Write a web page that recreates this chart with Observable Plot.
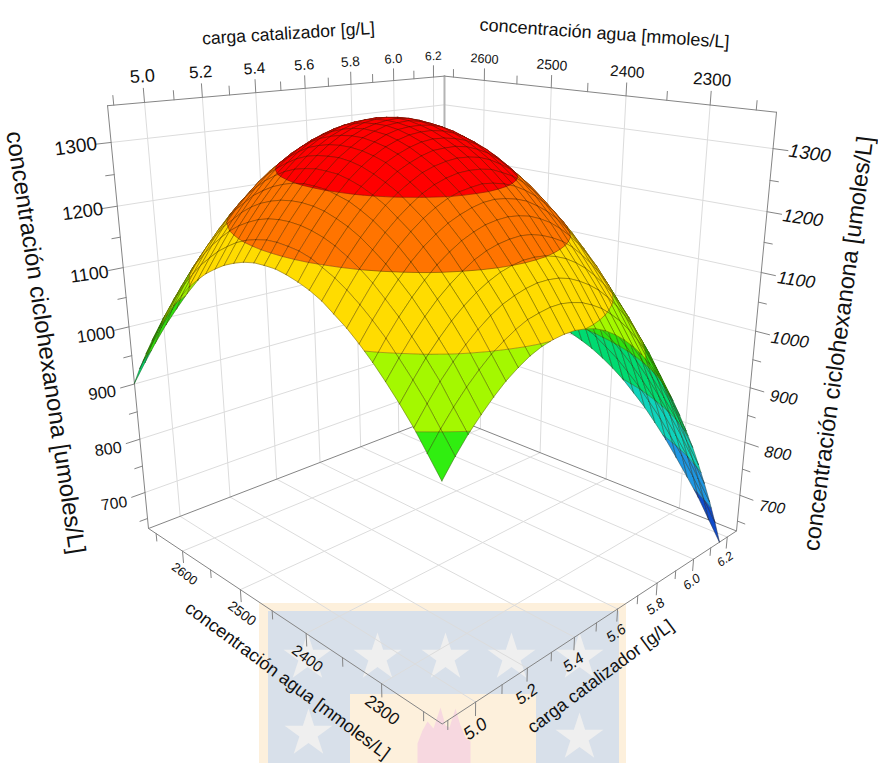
<!DOCTYPE html>
<html><head><meta charset="utf-8">
<script src="https://cdn.jsdelivr.net/npm/d3@7"></script>
<script src="https://cdn.jsdelivr.net/npm/@observablehq/plot@0.6"></script>
<style>html,body{margin:0;padding:0;background:#fff}svg{display:block}</style>
</head><body><div id="chart"></div>
<script>
const cargaTicks=[5.0,5.2,5.4,5.6,5.8,6.0,6.2];
const cargaMinor=[4.9,5.1,5.3,5.5,5.7,5.9,6.1];
const aguaTicks=[2300,2400,2500,2600];
const aguaMinor=[2250,2350,2450,2550,2650];
const concTicks=[700,800,900,1000,1100,1200,1300];
const concMinor=[650,750,850,950,1050,1150,1250];
const bandLevels=[630.5,710,790,870,950,1030,1110,1195,1274,2000];
const bandColors=["#1050d8","#20a0f0","#10e0c8","#00e878","#30ee10","#a4f800","#ffdc00","#ff7400","#ff0000"];
const cargaGrid=[4.880,4.923,4.965,5.008,5.050,5.092,5.135,5.177,5.220,5.262,5.305,5.347,5.389,5.432,5.474,5.517,5.559,5.601,5.644,5.686,5.729,5.771,5.814,5.856,5.898,5.941,5.983,6.026,6.068,6.111,6.153];
const aguaGrid=[2229,2244,2258,2273,2288,2302,2317,2331,2346,2360,2375,2389,2404,2418,2433,2447,2462,2476,2491,2505,2520,2534,2549,2563,2578,2592,2607,2622,2636,2651,2665];
// concentración ciclohexanona: one row per aguaGrid value, one column per cargaGrid value
const surfaceZ=[
[980,1005,1027,1046,1063,1078,1090,1100,1107,1111,1113,1113,1110,1105,1097,1086,1073,1058,1040,1020,997,971,944,913,880,845,807,766,724,678,630],
[1008,1033,1055,1075,1092,1107,1119,1129,1137,1141,1144,1144,1141,1136,1128,1118,1105,1090,1072,1052,1029,1004,977,946,914,879,841,801,758,713,665],
[1034,1059,1082,1102,1119,1134,1147,1157,1164,1169,1172,1172,1170,1165,1157,1147,1135,1120,1102,1082,1060,1035,1008,978,945,910,873,833,790,745,698],
[1058,1083,1106,1126,1144,1159,1172,1182,1190,1195,1198,1198,1196,1191,1184,1174,1162,1147,1130,1111,1088,1064,1036,1007,974,940,902,863,820,776,728],
[1080,1105,1128,1149,1167,1182,1195,1206,1214,1219,1222,1223,1221,1216,1209,1200,1188,1173,1156,1137,1115,1090,1063,1034,1002,967,930,891,849,804,757],
[1099,1125,1148,1169,1187,1203,1216,1227,1235,1241,1244,1245,1243,1239,1232,1223,1211,1197,1180,1160,1139,1114,1088,1058,1027,992,956,916,874,830,783],
[1117,1143,1166,1187,1206,1222,1235,1246,1254,1260,1264,1265,1263,1259,1253,1243,1232,1218,1201,1182,1161,1137,1110,1081,1049,1015,979,940,898,854,808],
[1132,1158,1182,1203,1222,1238,1252,1263,1272,1278,1281,1283,1281,1277,1271,1262,1251,1237,1221,1202,1181,1157,1130,1102,1070,1036,1000,961,920,876,830],
[1145,1172,1196,1217,1236,1252,1266,1278,1287,1293,1297,1298,1297,1294,1287,1279,1268,1254,1238,1219,1198,1175,1149,1120,1089,1055,1019,981,940,896,850],
[1157,1183,1207,1229,1248,1265,1279,1290,1300,1306,1310,1312,1311,1308,1302,1293,1283,1269,1253,1235,1214,1191,1165,1136,1106,1072,1036,998,957,914,868],
[1166,1192,1217,1239,1258,1275,1289,1301,1310,1317,1322,1323,1323,1320,1314,1306,1295,1282,1266,1248,1228,1204,1179,1151,1120,1087,1051,1013,972,929,884],
[1172,1200,1224,1246,1266,1283,1297,1310,1319,1326,1331,1333,1332,1329,1324,1316,1306,1293,1277,1259,1239,1216,1191,1163,1132,1099,1064,1026,986,943,897],
[1177,1205,1229,1252,1271,1289,1304,1316,1326,1333,1338,1340,1340,1337,1332,1324,1314,1301,1286,1268,1248,1226,1200,1173,1142,1110,1075,1037,997,954,909],
[1180,1207,1232,1255,1275,1293,1308,1320,1330,1338,1343,1345,1345,1343,1338,1330,1320,1308,1293,1275,1255,1233,1208,1181,1151,1118,1083,1046,1006,963,918],
[1180,1208,1233,1256,1276,1294,1310,1322,1333,1340,1346,1348,1349,1346,1341,1334,1324,1312,1298,1280,1261,1238,1214,1186,1157,1124,1090,1052,1013,970,926],
[1179,1207,1232,1255,1276,1294,1309,1322,1333,1341,1346,1349,1350,1348,1343,1336,1327,1315,1300,1283,1264,1241,1217,1190,1160,1128,1094,1057,1017,975,931],
[1175,1203,1229,1252,1273,1291,1307,1320,1331,1339,1345,1348,1349,1347,1343,1336,1326,1315,1300,1284,1264,1242,1218,1191,1162,1130,1096,1059,1020,978,934],
[1169,1198,1224,1247,1268,1287,1303,1316,1327,1335,1341,1345,1346,1344,1340,1333,1324,1313,1299,1282,1263,1241,1217,1191,1162,1130,1096,1060,1020,979,935],
[1161,1190,1216,1240,1261,1280,1296,1310,1321,1329,1336,1339,1340,1339,1335,1329,1320,1309,1295,1278,1260,1238,1214,1188,1159,1128,1094,1058,1019,978,934],
[1151,1180,1207,1231,1252,1271,1287,1301,1313,1321,1328,1332,1333,1332,1328,1322,1313,1302,1289,1273,1254,1233,1209,1183,1155,1124,1090,1054,1015,974,930],
[1139,1168,1195,1219,1241,1260,1276,1290,1302,1311,1318,1322,1324,1323,1319,1313,1305,1294,1281,1265,1246,1225,1202,1176,1148,1117,1084,1048,1009,968,925],
[1125,1154,1181,1205,1227,1247,1264,1278,1290,1299,1306,1310,1312,1311,1308,1303,1294,1284,1271,1255,1237,1216,1193,1167,1139,1108,1075,1040,1001,961,918],
[1109,1138,1165,1190,1212,1231,1249,1263,1275,1285,1292,1296,1298,1298,1295,1289,1281,1271,1258,1243,1225,1204,1181,1156,1128,1098,1065,1029,991,951,908],
[1090,1120,1147,1172,1194,1214,1231,1246,1258,1268,1275,1280,1282,1282,1279,1274,1267,1256,1244,1228,1211,1190,1168,1143,1115,1085,1052,1017,979,939,896],
[1069,1099,1127,1152,1174,1194,1212,1227,1240,1249,1257,1262,1265,1265,1262,1257,1249,1240,1227,1212,1195,1175,1152,1127,1100,1070,1037,1002,965,925,882],
[1047,1077,1105,1130,1152,1173,1191,1206,1219,1229,1237,1242,1244,1245,1242,1238,1230,1221,1208,1194,1176,1157,1134,1110,1082,1053,1020,986,948,908,866],
[1022,1052,1080,1106,1128,1149,1167,1182,1196,1206,1214,1219,1222,1223,1221,1216,1209,1200,1188,1173,1156,1136,1114,1090,1063,1033,1001,967,930,890,848],
[995,1026,1054,1079,1102,1123,1141,1157,1170,1181,1189,1195,1198,1199,1197,1193,1186,1176,1165,1150,1134,1114,1092,1068,1041,1012,980,946,909,870,828],
[966,997,1025,1051,1074,1095,1114,1129,1143,1154,1162,1168,1172,1173,1171,1167,1160,1151,1140,1125,1109,1090,1068,1044,1018,989,957,923,886,847,806],
[934,966,994,1020,1044,1065,1084,1100,1114,1125,1133,1140,1143,1144,1143,1139,1133,1124,1113,1098,1082,1063,1042,1018,992,963,931,898,861,822,781],
[901,932,961,988,1011,1033,1052,1068,1082,1093,1102,1109,1112,1114,1113,1109,1103,1094,1083,1069,1053,1035,1014,990,964,935,904,870,834,796,755]
];
const D=(u,v,w)=>1+.3479*u+.3375*v-.1625*w;
const pr=(u,v,w)=>{const d=D(u,v,w);return [(550.35*u-243.75*v+441.7-72.15*w)/d,(-8.44*u-17.3*v+723.5-582.6*w)/d]};
const U=c=>(c-4.8804)/1.3773, V=a=>(a-2229)/436, W=z=>(z-630.5)/725.5;

function lineSet(){const r=[];let g=0;return {r,add(pts){g++;pts.forEach(p=>{const q=pr(...p);r.push({g,x:q[0],y:q[1]})})}}}
const grid=lineSet();
for(const c of cargaTicks){const u=U(c);grid.add([[u,1,0],[u,1,1]]);grid.add([[u,0,0],[u,1,0]]);}
for(const a of aguaTicks){const v=V(a);grid.add([[1,v,0],[1,v,1]]);grid.add([[0,v,0],[1,v,0]]);}
for(const z of concTicks){const w=W(z);grid.add([[0,1,w],[1,1,w]]);grid.add([[1,0,w],[1,1,w]]);}
const edges=lineSet();
edges.add([[0,1,1],[1,1,1],[1,0,1]]);
edges.add([[0,1,1],[0,1,0],[0,0,0],[1,0,0],[1,0,1]]);
edges.add([[0,1,0],[1,1,0],[1,0,0]]);
const backEdge=lineSet();backEdge.add([[1,1,0],[1,1,1]]);
const ticks=lineSet();
const M=.03,m=.02;
cargaTicks.forEach(c=>{ticks.add([[U(c),1,1],[U(c),1,1+M]]);ticks.add([[U(c),0,0],[U(c),0,-M]])});
cargaMinor.forEach(c=>{ticks.add([[U(c),1,1],[U(c),1,1+m]]);ticks.add([[U(c),0,0],[U(c),0,-m]])});
aguaTicks.forEach(a=>{ticks.add([[1,V(a),1],[1,V(a),1+M]]);ticks.add([[0,V(a),0],[0,V(a),-M]])});
aguaMinor.forEach(a=>{ticks.add([[1,V(a),1],[1,V(a),1+m]]);ticks.add([[0,V(a),0],[0,V(a),-m]])});
concTicks.forEach(z=>{ticks.add([[0,1,W(z)],[-.035,1,W(z)]]);ticks.add([[1,0,W(z)],[1,-.035,W(z)]])});
concMinor.forEach(z=>{ticks.add([[0,1,W(z)],[-.02,1,W(z)]]);ticks.add([[1,0,W(z)],[1,-.02,W(z)]])});

const rows=[];let gid=0;
const add=(pts,fill,stroke,sw)=>{gid++;pts.forEach(p=>{const q=pr(p[0],p[1],W(p[2]));rows.push({gid,x:q[0],y:q[1],fill,stroke,sw})})};
function clip(poly,lvl,keepAbove){const out=[];for(let k=0;k<poly.length;k++){const a=poly[k],b=poly[(k+1)%poly.length];const ia=keepAbove?a[2]>=lvl:a[2]<=lvl,ib=keepAbove?b[2]>=lvl:b[2]<=lvl;if(ia)out.push(a);if(ia!==ib){const t=(lvl-a[2])/(b[2]-a[2]);out.push([a[0]+t*(b[0]-a[0]),a[1]+t*(b[1]-a[1]),lvl])}}return out}
function shade(col,f){const c=d3.rgb(col);return d3.rgb(c.r*f,c.g*f,c.b*f).formatHex()}
const ink="rgba(50,30,0,0.5)";
const nJ=aguaGrid.length-1,nI=cargaGrid.length-1;
const floorZ=bandLevels[0];
for(let j=nJ-1;j>=0;j--)for(let i=nI-1;i>=0;i--){
 const z00=surfaceZ[j][i],z10=surfaceZ[j][i+1],z01=surfaceZ[j+1][i],z11=surfaceZ[j+1][i+1];
 const u0=U(cargaGrid[i]),u1=U(cargaGrid[i+1]),v0=V(aguaGrid[j]),v1=V(aguaGrid[j+1]);
 const quad=[[u0,v0,z00],[u1,v0,z10],[u1,v1,z11],[u0,v1,z01]];
 const dwdu=(z10+z11-z00-z01)/725.5/2/(u1-u0), dwdv=(z01+z11-z00-z10)/725.5/2/(v1-v0);
 const nl=Math.hypot(dwdu,dwdv,1);
 const f=(.6*dwdu+.6*dwdv+.75)/nl;
 let b=Math.max(.74,Math.min(1,.72+.5*f));
 const sp=quad.map(p=>pr(p[0],p[1],W(p[2])));
 const area=d3.polygonArea(sp);
 if(area<0)b=.94;
 for(let k=0;k<bandLevels.length-1;k++){
  let p=clip(quad,bandLevels[k],true);if(p.length<3)continue;
  p=clip(p,bandLevels[k+1],false);if(p.length<3)continue;
  const col=shade(bandColors[k],b);
  add([...p,p[0]],col,col,.35);
  for(let q=0;q<p.length;q++){const a=p[q],c=p[(q+1)%p.length];if(a[2]===c[2]&&a[2]===bandLevels[k]&&k>0)add([a,c],"none",ink,.7)}
 }
 for(const [a,c] of [[quad[0],quad[1]],[quad[1],quad[2]],[quad[2],quad[3]],[quad[3],quad[0]]]){
  let s=a,e=c;if(s[2]<floorZ&&e[2]<floorZ)continue;
  if(s[2]<floorZ||e[2]<floorZ){const t=(floorZ-s[2])/(e[2]-s[2]);const x=[s[0]+t*(e[0]-s[0]),s[1]+t*(e[1]-s[1]),floorZ];if(s[2]<floorZ)s=x;else e=x}
  add([s,e],"none",ink,.7);
 }
}
const s1=d=>25/Math.pow(d,1.8), s2=d=>17.5*Math.pow(1.05/d,1.5);
const label=(txt,u,v,w,size,rotate)=>({txt,p:pr(u,v,w),size,rotate});
const lblTop=[...cargaTicks.map(c=>label(c.toFixed(1),U(c),1,1.055,s1(D(U(c),1,1.055)),-4)),...aguaTicks.map(a=>label(String(a),1,V(a),1.055,s1(D(1,V(a),1.055)),4))];
const lblLeft=concTicks.map(z=>label(String(z),-.08,1,W(z),s1(D(-.08,1,W(z))),-8));
const lblRight=concTicks.map(z=>label(String(z),1,-.085,W(z),s1(D(1,-.085,W(z))),8));
const lblAgua=aguaTicks.map(a=>label(String(a),0,V(a),-.06,s2(D(0,V(a),-.06)),37));
const lblCarga=cargaTicks.map(c=>label(c.toFixed(1),U(c),0,-.06,s2(D(U(c),0,-.06)),-35));
const textOpts=(extra={})=>({x:d=>d.p[0],y:d=>d.p[1],text:"txt",fontSize:"size",rotate:"rotate",fill:"#111",fontFamily:"Liberation Sans",textAnchor:"middle",...extra});
const wmStars=[[308,733],[307,657],[377,657],[445,657],[511,657],[579,657],[579,737]];
const wmFlame=[[417,763],[417,743],[422,730],[427,721],[433,728],[440,707],[445,725],[449,727],[455,708],[460,725],[465,737],[470,741],[470,763]];
const titles=[
 {t:"carga catalizador [g/L]",x:288,y:33,s:17.6,r:-3.5,st:"normal"},
 {t:"concentración agua [mmoles/L]",x:604,y:33,s:18,r:4,st:"normal"},
 {t:"concentración agua [mmoles/L]",x:287,y:680,s:18,r:36.7,st:"normal"},
 {t:"carga catalizador [g/L]",x:600,y:676,s:18,r:-36.7,st:"italic"},
 {t:"concentración ciclohexanona [umoles/L]",x:45,y:342,s:24,r:81.5,st:"normal"},
 {t:"concentración ciclohexanona [umoles/L]",x:838,y:343,s:23.5,r:-82.5,st:"italic"}];
const chart=Plot.plot({width:878,height:763,margin:0,x:{domain:[0,878],axis:null},y:{domain:[763,0],axis:null},color:{type:"identity"},
 style:{background:"#fff"},
 marks:[
  Plot.rect([0],{x1:259,x2:626,y1:603,y2:763,fill:"#fdf0dc"}),
  Plot.rect([0],{x1:268,x2:619,y1:611,y2:763,fill:"#d8e0ea"}),
  Plot.rect([0],{x1:350,x2:536,y1:694,y2:763,fill:"#fdf0dc"}),
  Plot.dot(wmStars,{x:d=>d[0],y:d=>d[1],r:15,symbol:"star",fill:"#efefef"}),
  Plot.line(wmFlame,{x:d=>d[0],y:d=>d[1],fill:"#f7d8e0",stroke:"none"}),
  Plot.line(grid.r,{x:"x",y:"y",z:"g",stroke:"#dcdcdc",strokeWidth:1}),
  Plot.line(backEdge.r,{x:"x",y:"y",z:"g",stroke:"#b4b4b4",strokeWidth:2}),
  Plot.line(edges.r,{x:"x",y:"y",z:"g",stroke:"#858585",strokeWidth:1}),
  Plot.line(ticks.r,{x:"x",y:"y",z:"g",stroke:"#858585",strokeWidth:1}),
  Plot.line(rows,{x:"x",y:"y",z:"gid",fill:"fill",stroke:"stroke",strokeWidth:"sw"}),
  Plot.text(lblTop,textOpts()),
  Plot.text(lblLeft,textOpts()),
  Plot.text(lblRight,textOpts({fontStyle:"italic"})),
  Plot.text(lblAgua,textOpts()),
  Plot.text(lblCarga,textOpts({fontStyle:"italic"})),
  Plot.text(titles,{x:"x",y:"y",text:"t",fontSize:"s",rotate:"r",fontStyle:d=>d.st,fill:"#111",fontFamily:"Liberation Sans",textAnchor:"middle"})
 ]});
document.getElementById("chart").append(chart);
</script></body></html>
